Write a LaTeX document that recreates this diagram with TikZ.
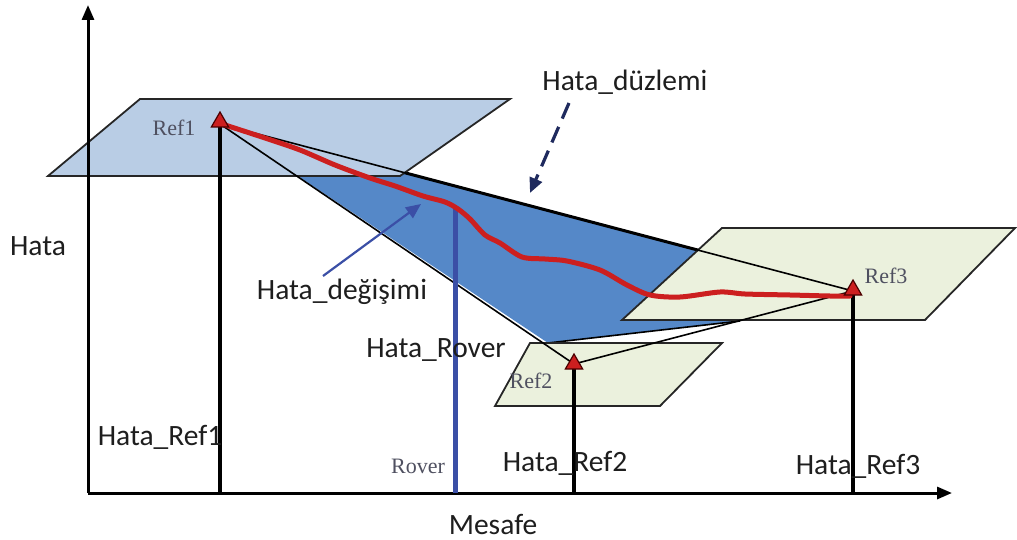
\documentclass[tikz,border=0pt]{standalone}
\usepackage{fontspec}
\setmainfont{Carlito}
\newfontfamily\serifref{Liberation Serif}
\usetikzlibrary{arrows.meta,shapes.geometric}
\definecolor{planeblue}{HTML}{B9CDE5}
\definecolor{planegreen}{HTML}{EBF1DD}
\definecolor{errblue}{HTML}{5588C8}
\definecolor{redline}{HTML}{CC1F1F}
\definecolor{rovblue}{HTML}{3B4FA6}
\definecolor{navy}{HTML}{1F2A5E}
\definecolor{reftext}{HTML}{4F5060}
\definecolor{lbl}{HTML}{1E1E1E}
\tikzset{
  axisline/.style={line width=3pt,-{Triangle[length=15pt,width=12pt]}},
  plane/.style={draw=black!85,line width=1.8pt,line join=miter},
  edge/.style={line width=1.6pt,black},
  pillar/.style={line width=4pt,black},
  lab/.style={font=\fontsize{29.5}{31}\selectfont,text=lbl,inner sep=0pt},
  reflab/.style={font=\serifref\fontsize{22}{24}\selectfont,text=reftext,inner sep=0pt},
  tri/.style={regular polygon,regular polygon sides=3,fill=redline,draw=black!70!red,line width=1.2pt,minimum size=20pt,inner sep=0pt}
}
\begin{document}
\begin{tikzpicture}[x=1pt,y=-1pt]
\useasboundingbox (0,0) rectangle (1017,540);
% key points
\coordinate (R1) at (220,124);
\coordinate (R2) at (574,364);
\coordinate (R3) at (853,291);
\coordinate (O) at (88,493);
\coordinate (Ytop) at (88,5);
\coordinate (Xend) at (952,493);
\coordinate (B1) at (220,493);
\coordinate (B2) at (574,493);
\coordinate (B3) at (853,493);
\coordinate (RovTop) at (455,207);
\coordinate (RovBot) at (455,493);
% error plane (blue)
\fill[errblue] (R1) -- (548,343) -- (740,321) -- (R3) -- cycle;
\draw[line width=3pt] (R1) -- (R3);
\draw[edge] (548,343) -- (740,321);
% reference planes
\filldraw[plane,fill=planeblue] (140,99) -- (510,99) -- (400,176) -- (48,176) -- cycle;
\filldraw[plane,fill=planegreen] (530,343) -- (722,343) -- (660,406) -- (495,406) -- cycle;
\filldraw[plane,fill=planegreen] (722,228) -- (1015,228) -- (925,320) -- (622,320) -- cycle;
% triangle edges
\draw[edge] (R1) -- (R2);
\draw[edge] (R2) -- (R3);
\draw[edge] (R1) -- (R3);
% axes
\draw[axisline] (O) -- (Ytop);
\draw[axisline] (O) -- (Xend);
% pillars
\draw[pillar] (R1) -- (B1);
\draw[pillar] (R2) -- (B2);
\draw[pillar] (R3) -- (B3);
\draw[line width=5pt,rovblue] (RovTop) -- (RovBot);
% red error curve
\draw[redline,line width=5pt,line cap=round,line join=round]
  plot[smooth,tension=0.5] coordinates {(222,124) (265,138) (300,150) (335,165) (370,178) (395,186) (423,196) (445,202) (458,209) (470,219) (485,235) (500,243) (522,257) (545,259) (567,261) (600,270) (627,285) (650,295) (680,297) (720,292) (745,294) (790,295) (830,296) (850,296)};
% triangles
\node[tri] (t1) at (220,122) {};
\node[tri] (t2) at (574,364) {};
\node[tri] (t3) at (853,290) {};
% labels
\node[lab] (hata) at (38,246) {Hata};
\node[lab] (mesafe) at (493,524) {Mesafe};
\node[lab] (duz) at (625,82) {Hata\_düzlemi};
\node[lab] (deg) at (342,292) {Hata\_değişimi};
\node[lab] (hrov) at (436,350) {Hata\_Rover};
\node[lab] (hr1) at (160,437) {Hata\_Ref1};
\node[lab] (hr2) at (565,463) {Hata\_Ref2};
\node[lab] (hr3) at (858,466) {Hata\_Ref3};
\node[reflab] (r1) at (174,128) {Ref1};
\node[reflab] (r2) at (531,381) {Ref2};
\node[reflab] (r3) at (886,276) {Ref3};
\node[reflab] (rov) at (418,466) {Rover};
% pointer arrows
\coordinate (degTip) at (421,204);
\coordinate (duzTip) at (530,193);
\draw[rovblue,line width=2.2pt,-{Triangle[length=15pt,width=13pt]}] (323,276) -- (degTip);
\draw[navy,line width=3.2pt,dash pattern=on 17pt off 9pt,-{Triangle[length=15pt,width=13pt]}] (569,103) -- (duzTip);
\end{tikzpicture}
\end{document}
